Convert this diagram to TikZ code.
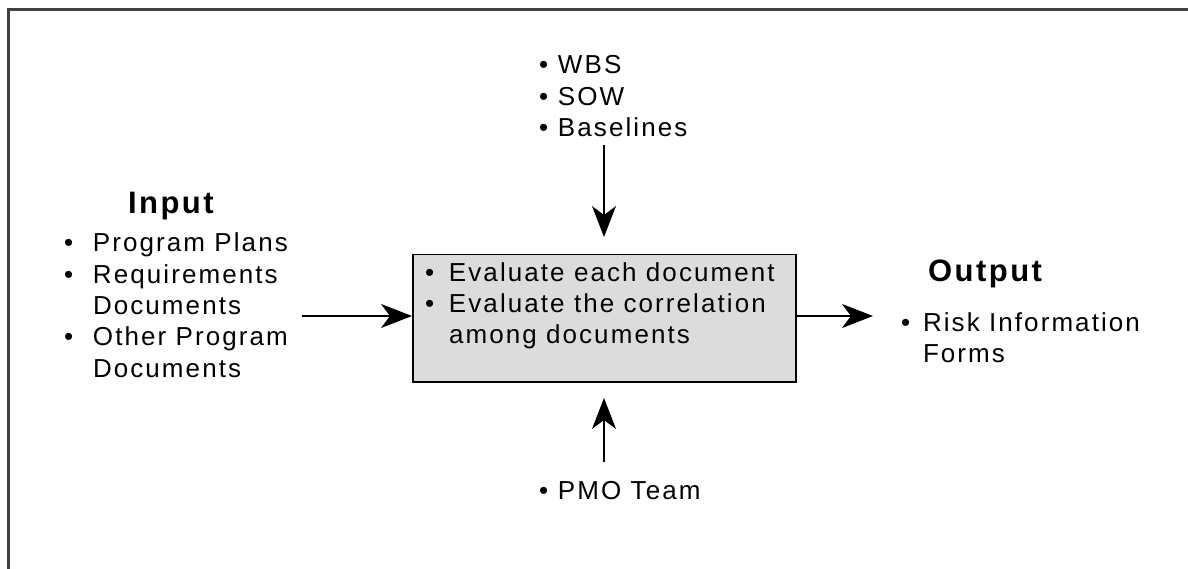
\documentclass[tikz,border=0pt]{standalone}
\usepackage{fontspec}
\setmainfont{Liberation Sans}
\newfontfamily\lsfont[LetterSpace=8]{Liberation Sans}
\usetikzlibrary{arrows.meta}
\definecolor{boxgray}{RGB}{220,220,220}
\definecolor{framegray}{RGB}{64,64,64}
\newcommand{\bl}{\textbullet}
\tikzset{
  txt/.style={inner sep=0pt, outer sep=0pt, anchor=base west,
    font=\lsfont\fontsize{26}{31.3}\selectfont},
  head/.style={inner sep=0pt, outer sep=0pt, anchor=base west,
    font=\lsfont\bfseries\fontsize{31}{36}\selectfont},
  arr/.style={line width=1.6pt, -{Stealth[length=31pt, width=24pt, inset=9pt]}},
  procbox/.style={draw=black, line width=1.5pt, fill=boxgray, inner sep=0pt,
    minimum width=383pt, minimum height=127pt, anchor=north west},
}
\begin{document}
\begin{tikzpicture}[x=1pt, y=-1pt]
\useasboundingbox (0,0) rectangle (1188,569);
\fill[white] (0,0) rectangle (1188,569);
\draw[framegray, line width=3pt] (1200,9.5) -- (8.5,9.5) -- (8.5,580);

% process box
\node[procbox] (proc) at (412,254) {};
\node[txt] (ptext) at (425,281) {\begin{tabular}[t]{@{}p{24pt}@{}l@{}}
\bl & Evaluate each document\\
\bl & Evaluate the correlation\\
 & among documents
\end{tabular}};

% top list
\node[txt] (toplist) at (539,74) {\begin{tabular}[t]{@{}p{19pt}@{}l@{}}
\bl & WBS\\
\bl & SOW\\
\bl & Baselines
\end{tabular}};

% input
\node[head] (inhead) at (128,214) {Input};
\node[txt] (inlist) at (64,252) {\begin{tabular}[t]{@{}p{29pt}@{}l@{}}
\bl & Program Plans\\
\bl & Requirements\\
 & Documents\\
\bl & Other Program\\
 & Documents
\end{tabular}};

% output
\node[head] (outhead) at (928,281) {Output};
\node[txt] (outlist) at (901,331) {\begin{tabular}[t]{@{}p{22pt}@{}l@{}}
\bl & Risk Information\\
 & Forms
\end{tabular}};

% bottom
\node[txt] (pmo) at (539,499) {\begin{tabular}[t]{@{}p{19pt}@{}l@{}}
\bl & PMO Team
\end{tabular}};

% arrows
\coordinate (inS) at (302,316);
\coordinate (outE) at (873,316);
\coordinate (topS) at (604,145);
\coordinate (topE) at (604,237);
\coordinate (botS) at (604,462);
\coordinate (botE) at (604,398);
\draw[arr] (inS) -- (inS -| proc.west);
\draw[arr] (proc.east |- outE) -- (outE);
\draw[arr] (topS) -- (topE);
\draw[arr] (botS) -- (botE);
\end{tikzpicture}
\end{document}
